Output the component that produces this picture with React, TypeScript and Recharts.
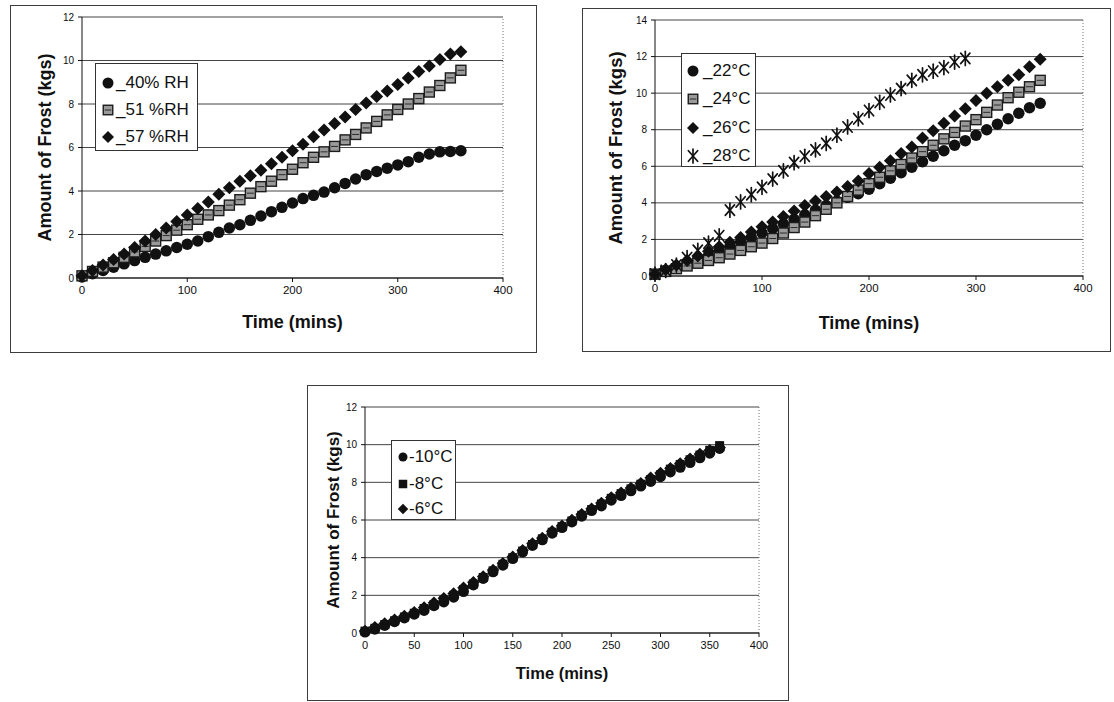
import React from 'react';
import { ScatterChart, Scatter, XAxis, YAxis, CartesianGrid, ReferenceLine, Legend } from 'recharts';

const FONT = '"Liberation Sans", Arial, Helvetica, sans-serif';
const INK = '#111111';

// sampling times (minutes)
const TIMES = [0, 10, 20, 30, 40, 50, 60, 70, 80, 90, 100, 110, 120, 130, 140, 150, 160, 170, 180, 190, 200, 210, 220, 230, 240, 250, 260, 270, 280, 290, 300, 310, 320, 330, 340, 350, 360];

// Chart 1 – relative humidity
const RH_LABELS = ['_40% RH', '_51 %RH', '_57 %RH'];
const RH40 = [0.05, 0.2, 0.35, 0.5, 0.65, 0.8, 0.95, 1.1, 1.25, 1.4, 1.55, 1.7, 1.9, 2.1, 2.3, 2.45, 2.65, 2.85, 3.05, 3.25, 3.45, 3.65, 3.8, 3.95, 4.15, 4.35, 4.55, 4.75, 4.9, 5.05, 5.2, 5.35, 5.55, 5.7, 5.8, 5.82, 5.85];
const RH51 = [0.1, 0.3, 0.5, 0.7, 0.95, 1.2, 1.45, 1.7, 1.95, 2.2, 2.45, 2.7, 2.9, 3.1, 3.35, 3.6, 3.9, 4.2, 4.45, 4.75, 5.0, 5.3, 5.55, 5.8, 6.05, 6.35, 6.6, 6.9, 7.2, 7.5, 7.75, 8.0, 8.25, 8.55, 8.85, 9.2, 9.55];
const RH57 = [0.1, 0.35, 0.6, 0.85, 1.1, 1.4, 1.7, 2.0, 2.3, 2.6, 2.9, 3.2, 3.5, 3.85, 4.15, 4.45, 4.7, 4.95, 5.25, 5.55, 5.85, 6.15, 6.5, 6.8, 7.1, 7.4, 7.75, 8.05, 8.35, 8.6, 8.9, 9.2, 9.5, 9.75, 10.05, 10.3, 10.4];

// Chart 2 – air temperature
const AIR_LABELS = ['_22°C', '_24°C', '_26°C', '_28°C'];
const AIR22 = [0.1, 0.3, 0.5, 0.7, 0.9, 1.1, 1.35, 1.6, 1.85, 2.1, 2.35, 2.6, 2.85, 3.1, 3.35, 3.6, 3.85, 4.1, 4.3, 4.5, 4.75, 5.05, 5.35, 5.65, 5.95, 6.25, 6.55, 6.85, 7.15, 7.4, 7.7, 8.0, 8.3, 8.6, 8.9, 9.2, 9.45];
const AIR24 = [0.1, 0.25, 0.4, 0.55, 0.7, 0.85, 1.0, 1.2, 1.4, 1.6, 1.8, 2.05, 2.35, 2.65, 2.95, 3.3, 3.65, 4.0, 4.35, 4.7, 5.05, 5.4, 5.75, 6.1, 6.45, 6.8, 7.15, 7.5, 7.85, 8.2, 8.55, 8.95, 9.35, 9.75, 10.05, 10.35, 10.7];
const AIR26 = [0.1, 0.35, 0.6, 0.85, 1.1, 1.35, 1.6, 1.85, 2.1, 2.4, 2.7, 2.95, 3.25, 3.55, 3.85, 4.1, 4.35, 4.6, 4.9, 5.2, 5.6, 5.95, 6.3, 6.7, 7.05, 7.55, 7.95, 8.35, 8.75, 9.15, 9.6, 10.0, 10.35, 10.7, 11.0, 11.45, 11.85];
const AIR28 = [0.1, 0.3, 0.6, 1.0, 1.4, 1.8, 2.2, 3.6, 4.05, 4.45, 4.85, 5.3, 5.75, 6.2, 6.55, 6.9, 7.25, 7.7, 8.15, 8.6, 9.05, 9.5, 9.9, 10.25, 10.7, 11.0, 11.2, 11.4, 11.7, 11.9];

// Chart 3 – surface temperature
const SURF_LABELS = ['-10°C', '-8°C', '-6°C'];
const SURF10 = [0.05, 0.2, 0.4, 0.6, 0.8, 1.0, 1.2, 1.45, 1.65, 1.9, 2.2, 2.55, 2.9, 3.25, 3.6, 3.95, 4.3, 4.65, 4.95, 5.3, 5.6, 5.9, 6.2, 6.5, 6.75, 7.05, 7.3, 7.55, 7.8, 8.05, 8.3, 8.55, 8.8, 9.05, 9.3, 9.55, 9.8];
const SURF8 = [0.1, 0.25, 0.45, 0.65, 0.85, 1.05, 1.3, 1.5, 1.75, 2.0, 2.3, 2.6, 2.95, 3.3, 3.65, 4.0, 4.35, 4.7, 5.0, 5.35, 5.65, 5.95, 6.25, 6.55, 6.85, 7.15, 7.4, 7.65, 7.9, 8.15, 8.4, 8.7, 8.95, 9.2, 9.45, 9.7, 9.95];
const SURF6 = [0.1, 0.3, 0.5, 0.7, 0.9, 1.1, 1.35, 1.6, 1.85, 2.1, 2.4, 2.7, 3.0, 3.35, 3.7, 4.05, 4.4, 4.75, 5.05, 5.4, 5.7, 6.0, 6.3, 6.6, 6.9, 7.2, 7.45, 7.7, 7.95, 8.25, 8.5, 8.75, 9.0, 9.25, 9.5, 9.7, 9.85];

const X_TICKS_100 = [0, 100, 200, 300, 400];
const X_TICKS_50 = [0, 50, 100, 150, 200, 250, 300, 350, 400];
const Y_TICKS_12 = [0, 2, 4, 6, 8, 10, 12];
const Y_TICKS_14 = [0, 2, 4, 6, 8, 10, 12, 14];
const X_TITLE = 'Time (mins)';
const Y_TITLE = 'Amount of Frost (kgs)';

type Kind = 'circle' | 'square' | 'hatch' | 'diamond' | 'star';

const toPoints = (vals: number[]) => vals.map((v, i) => ({ t: TIMES[i], v }));

function Mark({ kind, cx, cy, s }: { kind: Kind; cx: number; cy: number; s: number }) {
  const h = s / 2;
  if (kind === 'circle') return <circle cx={cx} cy={cy} r={h} fill={INK} />;
  if (kind === 'square') return <rect x={cx - h} y={cy - h} width={s} height={s} fill={INK} />;
  if (kind === 'hatch')
    return (
      <g>
        <rect x={cx - h} y={cy - h} width={s} height={s} fill="#9a9a9a" stroke="#1c1c1c" strokeWidth={1.4} />
        <line x1={cx - h + 1.5} y1={cy} x2={cx + h - 1.5} y2={cy} stroke="#2a2a2a" strokeWidth={1} />
      </g>
    );
  if (kind === 'diamond')
    return <polygon points={`${cx},${cy - h} ${cx + h},${cy} ${cx},${cy + h} ${cx - h},${cy}`} fill={INK} />;
  const dx = h * 0.66;
  const dy = h * 0.75;
  return (
    <g stroke={INK} strokeWidth={1.7} strokeLinecap="round">
      <line x1={cx} y1={cy - h} x2={cx} y2={cy + h} />
      <line x1={cx - dx} y1={cy - dy} x2={cx + dx} y2={cy + dy} />
      <line x1={cx - dx} y1={cy + dy} x2={cx + dx} y2={cy - dy} />
    </g>
  );
}

interface SeriesCfg { name: string; kind: Kind; size: number; legendSize: number; data: { t: number; v: number }[] }
interface LegendCfg { left: number; top: number; width: number; height: number; rows: number[]; markX: number; textX: number; fontSize: number }
interface PanelCfg {
  left: number; top: number; width: number; height: number;
  yAxisW: number; xAxisH: number; mTop: number; mRight: number;
  yMax: number; xTicks: number[]; yTicks: number[];
  series: SeriesCfg[]; legend: LegendCfg;
  yTitleX: number; xTitleDy: number; xTitleSize: number; yTitleSize: number; xTickSize: number; yTickSize: number;
}

function XTitle({ tx, ty, size }: any) {
  return (
    <text x={tx} y={ty} textAnchor="middle" dominantBaseline="central" fontSize={size} fontWeight="bold" fill={INK} fontFamily={FONT}>
      {X_TITLE}
    </text>
  );
}

function YTitle({ tx, ty, size }: any) {
  return (
    <text x={tx} y={ty} transform={`rotate(-90, ${tx}, ${ty})`} textAnchor="middle" dominantBaseline="central" fontSize={size} fontWeight="bold" fill={INK} fontFamily={FONT}>
      {Y_TITLE}
    </text>
  );
}

function Panel({ cfg }: { cfg: PanelCfg }) {
  const plotW = cfg.width - cfg.yAxisW - cfg.mRight;
  const plotH = cfg.height - cfg.mTop - cfg.xAxisH;
  const L = cfg.legend;
  const legendContent = () => (
    <div style={{ position: 'relative', width: L.width, height: L.height, border: '1px solid #333', background: '#fff', boxSizing: 'border-box', fontFamily: FONT }}>
      {cfg.series.map((s, i) => (
        <div key={s.name} style={{ position: 'absolute', left: 0, top: L.rows[i] - 11, width: L.width - 2, height: 22 }}>
          <svg width={L.width - 2} height={22} style={{ position: 'absolute', left: 0, top: 0 }}>
            <Mark kind={s.kind} cx={L.markX} cy={11} s={s.legendSize} />
          </svg>
          <span style={{ position: 'absolute', left: L.textX, top: 0, lineHeight: '22px', fontSize: L.fontSize, color: INK, whiteSpace: 'nowrap' }}>
            {s.name}
          </span>
        </div>
      ))}
    </div>
  );
  return (
    <>
      <div style={{ position: 'absolute', left: cfg.left, top: cfg.top, width: cfg.width, height: cfg.height, border: '1px solid #3c3c3c', boxSizing: 'border-box', background: '#fff' }} />
      <div style={{ position: 'absolute', left: cfg.left, top: cfg.top, width: cfg.width, height: cfg.height, fontFamily: FONT }}>
        <ScatterChart width={cfg.width} height={cfg.height} margin={{ top: cfg.mTop, right: cfg.mRight, left: 0, bottom: 0 }}>
          <CartesianGrid vertical={false} stroke="#454545" strokeWidth={1} />
          <XAxis
            type="number"
            dataKey="t"
            domain={[0, 400]}
            ticks={cfg.xTicks}
            interval={0}
            height={cfg.xAxisH}
            axisLine={{ stroke: INK, strokeWidth: 1 }}
            tickLine={{ stroke: INK }}
            tickSize={4}
            tickMargin={4}
            tick={{ fontSize: cfg.xTickSize, fill: '#0d0d0d', fontFamily: FONT }}
            label={<XTitle tx={cfg.yAxisW + plotW / 2} ty={cfg.mTop + plotH + cfg.xTitleDy} size={cfg.xTitleSize} />}
          />
          <YAxis
            type="number"
            dataKey="v"
            domain={[0, cfg.yMax]}
            ticks={cfg.yTicks}
            interval={0}
            width={cfg.yAxisW}
            axisLine={{ stroke: INK, strokeWidth: 1 }}
            tickLine={{ stroke: INK }}
            tickSize={4}
            tickMargin={4}
            tick={{ fontSize: cfg.yTickSize, fill: '#0d0d0d', fontFamily: FONT }}
            label={<YTitle tx={cfg.yTitleX} ty={cfg.mTop + plotH / 2} size={cfg.yTitleSize} />}
          />
          <ReferenceLine x={400} stroke="#777" strokeDasharray="1 2" />
          {cfg.series.map((s) => (
            <Scatter
              key={s.name}
              name={s.name}
              data={s.data}
              isAnimationActive={false}
              shape={(p: any) => <Mark kind={s.kind} cx={p.cx} cy={p.cy} s={s.size} />}
            />
          ))}
          <Legend
            content={legendContent}
            layout="vertical"
            align="center"
            verticalAlign="middle"
            wrapperStyle={{ left: L.left, top: L.top, width: L.width, height: L.height }}
          />
        </ScatterChart>
      </div>
    </>
  );
}

const PANEL_RH: PanelCfg = {
  left: 10, top: 5, width: 527, height: 348,
  yAxisW: 72, xAxisH: 75, mTop: 12, mRight: 34,
  yMax: 12, xTicks: X_TICKS_100, yTicks: Y_TICKS_12,
  series: [
    { name: RH_LABELS[0], kind: 'circle', size: 11.5, legendSize: 11, data: toPoints(RH40) },
    { name: RH_LABELS[1], kind: 'hatch', size: 10, legendSize: 9.5, data: toPoints(RH51) },
    { name: RH_LABELS[2], kind: 'diamond', size: 13, legendSize: 12, data: toPoints(RH57) },
  ],
  legend: { left: 85, top: 58, width: 103, height: 88, rows: [19, 46, 73], markX: 12, textX: 20, fontSize: 17 },
  yTitleX: 35, xTitleDy: 44, xTitleSize: 18, yTitleSize: 18, xTickSize: 11.5, yTickSize: 10,
};

const PANEL_AIR: PanelCfg = {
  left: 582, top: 8, width: 529, height: 344,
  yAxisW: 73, xAxisH: 76, mTop: 12, mRight: 28,
  yMax: 14, xTicks: X_TICKS_100, yTicks: Y_TICKS_14,
  series: [
    { name: AIR_LABELS[0], kind: 'circle', size: 11.5, legendSize: 11, data: toPoints(AIR22) },
    { name: AIR_LABELS[1], kind: 'hatch', size: 10, legendSize: 9.5, data: toPoints(AIR24) },
    { name: AIR_LABELS[2], kind: 'diamond', size: 13, legendSize: 12, data: toPoints(AIR26) },
    { name: AIR_LABELS[3], kind: 'star', size: 14, legendSize: 14, data: toPoints(AIR28) },
  ],
  legend: { left: 99, top: 45, width: 75, height: 114, rows: [17, 45, 74, 102], markX: 11, textX: 21, fontSize: 17 },
  yTitleX: 33, xTitleDy: 47, xTitleSize: 18, yTitleSize: 18.5, xTickSize: 11.5, yTickSize: 10,
};

const PANEL_SURF: PanelCfg = {
  left: 307, top: 385, width: 482, height: 316,
  yAxisW: 58, xAxisH: 68, mTop: 22, mRight: 30,
  yMax: 12, xTicks: X_TICKS_50, yTicks: Y_TICKS_12,
  series: [
    { name: SURF_LABELS[0], kind: 'circle', size: 11, legendSize: 9, data: toPoints(SURF10) },
    { name: SURF_LABELS[1], kind: 'square', size: 9, legendSize: 8.5, data: toPoints(SURF8) },
    { name: SURF_LABELS[2], kind: 'diamond', size: 12.5, legendSize: 10.5, data: toPoints(SURF6) },
  ],
  legend: { left: 84, top: 55, width: 65, height: 80, rows: [16, 43, 68], markX: 11, textX: 17, fontSize: 17 },
  yTitleX: 26, xTitleDy: 40, xTitleSize: 16.5, yTitleSize: 17, xTickSize: 11, yTickSize: 10,
};

export default function App() {
  return (
    <div style={{ position: 'absolute', left: 0, top: 0, width: 1114, height: 702, background: '#fff', overflow: 'hidden', fontFamily: FONT }}>
      <Panel cfg={PANEL_RH} />
      <Panel cfg={PANEL_AIR} />
      <Panel cfg={PANEL_SURF} />
    </div>
  );
}
